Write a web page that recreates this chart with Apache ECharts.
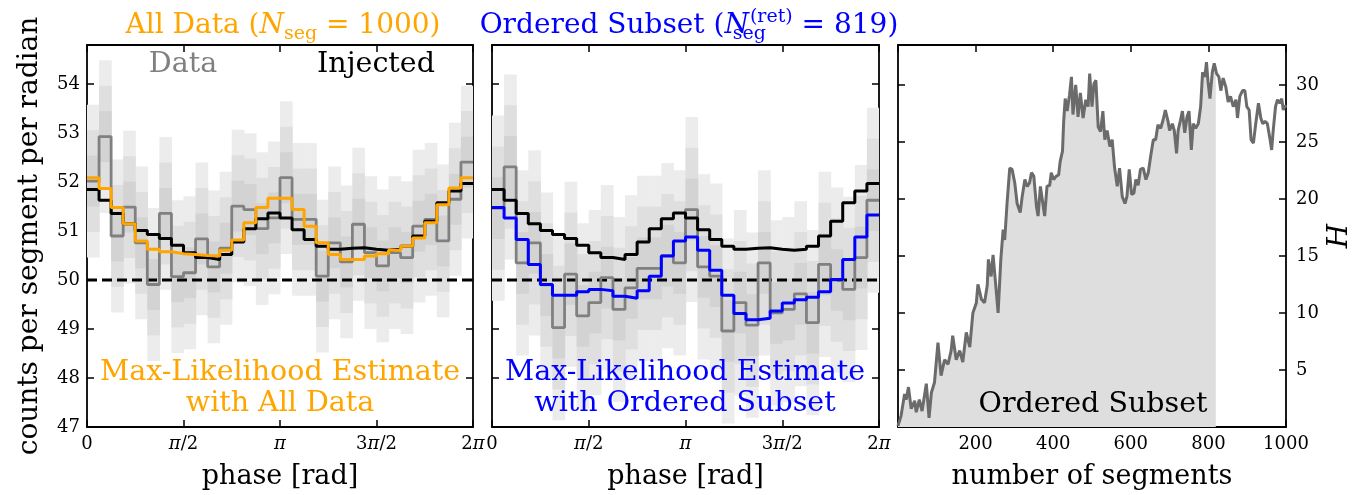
<!DOCTYPE html>
<html>
<head>
<meta charset="utf-8">
<script src="https://cdn.jsdelivr.net/npm/echarts@6/dist/echarts.min.js"></script>
<style>
  html, body { margin: 0; padding: 0; background: #fff; }
  #chart { width: 1371px; height: 495px; }
</style>
</head>
<body>
<div id="chart"></div>
<script>
// phase bins (32 over 0..2pi)
const nBins = 32;
const injected = [51.85, 51.63, 51.36, 51.15, 51.01, 50.93, 50.85, 50.71, 50.56, 50.46, 50.42, 50.52, 50.78, 51.05, 51.25, 51.37,
  51.27, 51.03, 50.83, 50.69, 50.63, 50.65, 50.66, 50.63, 50.61, 50.63, 50.69, 50.90, 51.20, 51.58, 51.82, 51.97];
const dataAll = [52.02, 52.93, 50.90, 51.49, 50.76, 49.91, 51.36, 50.07, 50.15, 50.84, 50.27, 50.65, 51.51, 51.44, 51.05, 51.27,
  52.09, 51.24, 51.24, 50.08, 50.76, 50.37, 51.14, 50.56, 50.29, 50.56, 50.46, 51.10, 51.24, 50.80, 51.65, 52.41];
const mleAll = [52.09, 51.87, 51.48, 51.15, 50.80, 50.63, 50.58, 50.54, 50.52, 50.50, 50.49, 50.61, 50.82, 51.17, 51.48, 51.67,
  51.67, 51.44, 51.10, 50.76, 50.52, 50.42, 50.42, 50.49, 50.54, 50.61, 50.69, 50.86, 51.17, 51.54, 51.88, 52.09];
const dataSub = [51.47, 52.31, 50.35, 50.76, 49.90, 49.03, 50.12, 49.27, 49.54, 50.05, 49.40, 49.84, 50.24, 50.24, 50.50, 50.35,
  51.44, 50.27, 50.08, 48.96, 49.54, 49.08, 50.35, 49.33, 49.40, 49.72, 49.13, 50.32, 50.00, 49.81, 50.46, 51.63];
const mleSub = [51.48, 51.27, 50.83, 50.32, 49.91, 49.69, 49.69, 49.76, 49.81, 49.78, 49.67, 49.63, 49.78, 50.08, 50.49, 50.80,
  50.88, 50.61, 50.20, 49.69, 49.32, 49.19, 49.22, 49.37, 49.53, 49.60, 49.65, 49.76, 50.01, 50.42, 50.88, 51.33];
const sigmaAll = 0.52;
const sigmaSub = 0.63;
const nullLevel = 50;
const phaseTicks = ['0', '{i|π}/2', '{i|π}', '3{i|π}/2', '2{i|π}'];

// H statistic vs number of segments
const segN = [0, 8, 17, 21, 27, 34, 43, 47, 55, 62,
  68, 73, 80, 86, 94, 103, 111, 120, 129, 137,
  141, 150, 159, 167, 176, 185, 193, 202, 206, 215,
  223, 230, 233, 240, 245, 252, 258, 265, 271, 275,
  281, 288, 294, 301, 307, 315, 320, 327, 333, 339,
  344, 350, 357, 361, 367, 372, 378, 384, 391, 395,
  401, 408, 414, 418, 424, 427, 431, 436, 442, 447,
  451, 458, 464, 470, 477, 484, 490, 494, 500, 505,
  510, 516, 522, 528, 533, 539, 546, 552, 558, 565,
  571, 578, 585, 590, 596, 602, 608, 613, 619, 625,
  632, 639, 645, 651, 658, 664, 670, 677, 683, 689,
  696, 700, 707, 712, 718, 722, 728, 733, 739, 745,
  750, 756, 761, 767, 774, 780, 785, 791, 795, 799,
  804, 810, 815, 821, 827, 832, 838, 845, 851, 857,
  864, 871, 875, 881, 888, 894, 899, 905, 910, 916,
  922, 929, 935, 940, 946, 952, 959, 963, 967, 973,
  978, 984, 989, 993, 997, 1000];
const hVal = [0.1, 1.0, 2.9, 2.4, 3.5, 1.6, 2.3, 1.3, 2.4, 1.4,
  2.7, 3.8, 0.8, 3.0, 3.9, 7.4, 4.5, 5.9, 5.5, 6.7,
  8.0, 5.9, 6.7, 5.7, 8.3, 7.0, 10.0, 10.9, 12.5, 11.2,
  10.9, 12.4, 14.7, 13.2, 15.1, 12.4, 10.0, 14.7, 17.3, 16.4,
  19.6, 22.7, 22.6, 21.4, 19.6, 18.8, 20.2, 21.7, 21.1, 21.4,
  22.3, 22.0, 19.3, 18.5, 21.1, 19.9, 18.5, 21.1, 21.2, 22.3,
  21.7, 22.0, 22.1, 23.3, 24.2, 26.8, 28.8, 27.7, 29.1, 30.7,
  27.4, 30.0, 27.2, 29.3, 27.1, 28.7, 28.1, 31.0, 28.1, 30.1,
  30.4, 26.3, 25.9, 27.7, 25.2, 26.0, 24.6, 25.2, 22.8, 21.1,
  22.7, 20.2, 19.6, 20.2, 22.6, 20.4, 20.5, 21.7, 21.2, 22.6,
  22.7, 21.7, 22.3, 23.7, 25.2, 25.2, 26.5, 26.2, 26.9, 27.8,
  26.8, 26.0, 26.6, 26.0, 24.0, 26.0, 26.9, 27.7, 25.8, 27.2,
  27.7, 24.3, 26.6, 26.2, 26.6, 28.1, 31.1, 30.7, 32.0, 30.3,
  28.8, 31.1, 31.9, 31.0, 30.7, 29.5, 30.6, 29.8, 28.5, 29.0,
  28.1, 28.7, 27.1, 29.0, 29.5, 29.5, 28.1, 27.8, 25.2, 24.9,
  26.6, 28.4, 27.1, 26.6, 26.8, 26.6, 25.2, 24.3, 26.0, 28.1,
  28.7, 28.4, 28.8, 27.8, 28.2, 28.0];
const nRet = 819;
const hAtRet = 31.3;
const segTicks = [200, 400, 600, 800, 1000];
const hTicks = [5, 10, 15, 20, 25, 30];

const SERIF = '"DejaVu Serif", serif';
const TWO_PI = 2 * Math.PI;
const binW = TWO_PI / nBins;

function stepPoints(vals) {
  var pts = vals.map(function (v, i) { return [i * binW, v]; });
  pts.push([TWO_PI, vals[vals.length - 1]]);
  return pts;
}

function bandSeries(vals, sigma, k, color, xi, yi) {
  return {
    type: 'custom',
    xAxisIndex: xi,
    yAxisIndex: yi,
    silent: true,
    clip: true,
    z: 1,
    data: vals.map(function (v, i) { return [i, v]; }),
    renderItem: function (params, api) {
      var i = api.value(0), c = api.value(1);
      var p1 = api.coord([i * binW, c + k * sigma]);
      var p2 = api.coord([(i + 1) * binW, c - k * sigma]);
      return {
        type: 'rect',
        shape: { x: p1[0], y: p1[1], width: p2[0] - p1[0] + 0.6, height: p2[1] - p1[1] },
        style: { fill: color }
      };
    }
  };
}

function stepLine(vals, color, width, xi, yi, z) {
  return {
    type: 'line', xAxisIndex: xi, yAxisIndex: yi, step: 'end',
    symbol: 'none', silent: true, z: z,
    lineStyle: { color: color, width: width },
    data: stepPoints(vals)
  };
}

function nullLine(xi, yi) {
  return {
    type: 'line', xAxisIndex: xi, yAxisIndex: yi, symbol: 'none', silent: true, z: 2,
    lineStyle: { color: '#000', width: 3, type: [10, 5] },
    data: [[0, nullLevel], [TWO_PI, nullLevel]]
  };
}

var spine = { show: true, onZero: false, lineStyle: { color: '#000', width: 1.8 } };
var tick = { show: true, inside: true, length: 7, lineStyle: { color: '#000', width: 1.5 } };

function phaseAxis(gi, pos, labels) {
  return {
    type: 'value', gridIndex: gi, position: pos, min: 0, max: TWO_PI, interval: Math.PI / 2,
    axisLine: spine, axisTick: tick, splitLine: { show: false },
    name: labels ? 'phase [rad]' : '', nameLocation: 'middle', nameGap: 36,
    nameTextStyle: { fontFamily: SERIF, fontSize: 27, color: '#000' },
    axisLabel: {
      show: labels, margin: 8, fontFamily: SERIF, fontSize: 18, color: '#000',
      formatter: function (v) {
        var k = Math.round(v / (Math.PI / 2));
        if (Math.abs(v - k * Math.PI / 2) > 1e-6) return '';
        return phaseTicks[k];
      },
      rich: { i: { fontFamily: SERIF, fontSize: 18, fontStyle: 'italic', color: '#000' } }
    }
  };
}

function countAxis(gi, pos, labels) {
  return {
    type: 'value', gridIndex: gi, position: pos, min: 47, max: 54.8, interval: 1,
    axisLine: spine, axisTick: tick, splitLine: { show: false },
    name: labels ? 'counts per segment per radian' : '', nameLocation: 'middle', nameGap: 43,
    nameTextStyle: { fontFamily: SERIF, fontSize: 28, color: '#000' },
    axisLabel: {
      show: labels, margin: 7, fontFamily: SERIF, fontSize: 18, color: '#000',
      formatter: function (v) { return Math.abs(v - Math.round(v)) < 1e-6 ? String(Math.round(v)) : ''; }
    }
  };
}

var areaPts = [];
var linePts = [];
segN.forEach(function (s, i) {
  linePts.push([s, hVal[i]]);
  if (s < nRet) areaPts.push([s, hVal[i]]);
});
areaPts.push([nRet, hAtRet]);

var titleRich = {
  a: { fontFamily: SERIF, fontSize: 28, fontWeight: 'normal', lineHeight: 36, verticalAlign: 'middle' },
  n: { fontFamily: SERIF, fontSize: 28, fontWeight: 'normal', fontStyle: 'italic', lineHeight: 36, verticalAlign: 'middle' },
  sub: { fontFamily: SERIF, fontSize: 19, fontWeight: 'normal', verticalAlign: 'bottom' },
  sub0: { fontFamily: SERIF, fontSize: 19, fontWeight: 'normal', verticalAlign: 'bottom', width: 1 },
  sup: { fontFamily: SERIF, fontSize: 19, fontWeight: 'normal', verticalAlign: 'top' }
};
function richWithColor(color) {
  var r = {};
  Object.keys(titleRich).forEach(function (k) { r[k] = Object.assign({ color: color }, titleRich[k]); });
  return r;
}

function label(text, x, y, color) {
  return {
    type: 'text', x: x, y: y, silent: true, z: 100,
    style: { text: text, fill: color, font: '28.5px ' + SERIF, textAlign: 'center', textVerticalAlign: 'middle' }
  };
}

var option = {
  animation: false,
  backgroundColor: '#fff',
  title: [
    {
      left: 278, top: 3, textAlign: 'center',
      text: '{a|All Data (}{n|N}{sub|seg}{a| = 1000)}',
      textStyle: { fontWeight: 'normal', rich: richWithColor('#FFA500') }
    },
    {
      left: 684, top: 3, textAlign: 'center',
      text: '{a|Ordered Subset (}{n|N}{sub0|seg}{sup|(ret)}{a| = 819)}',
      textStyle: { fontWeight: 'normal', rich: richWithColor('#0000FF') }
    }
  ],
  grid: [
    { left: 87, top: 45, width: 386, height: 383 },
    { left: 492, top: 45, width: 387, height: 383 },
    { left: 898, top: 45, width: 388, height: 383 }
  ],
  xAxis: [
    phaseAxis(0, 'bottom', true),
    phaseAxis(0, 'top', false),
    phaseAxis(1, 'bottom', true),
    phaseAxis(1, 'top', false),
    {
      type: 'value', gridIndex: 2, position: 'bottom', min: 0, max: 1000, interval: 200,
      axisLine: spine, axisTick: tick, splitLine: { show: false },
      name: 'number of segments', nameLocation: 'middle', nameGap: 36,
      nameTextStyle: { fontFamily: SERIF, fontSize: 27, color: '#000' },
      axisLabel: {
        margin: 8, fontFamily: SERIF, fontSize: 18, color: '#000',
        formatter: function (v) { return segTicks.indexOf(v) >= 0 ? String(v) : ''; }
      }
    },
    {
      type: 'value', gridIndex: 2, position: 'top', min: 0, max: 1000, interval: 200,
      axisLine: spine, axisTick: tick, splitLine: { show: false }, axisLabel: { show: false }
    }
  ],
  yAxis: [
    countAxis(0, 'left', true),
    countAxis(0, 'right', false),
    countAxis(1, 'left', false),
    countAxis(1, 'right', false),
    {
      type: 'value', gridIndex: 2, position: 'right', min: 0, max: 33.5, interval: 5,
      axisLine: spine, axisTick: tick, splitLine: { show: false },
      name: 'H', nameLocation: 'middle', nameGap: 40, nameRotate: 90,
      nameTextStyle: { fontFamily: SERIF, fontSize: 28, fontStyle: 'italic', color: '#000' },
      axisLabel: {
        margin: 10, fontFamily: SERIF, fontSize: 18, color: '#000',
        formatter: function (v) { return hTicks.indexOf(v) >= 0 ? String(v) : ''; }
      }
    },
    {
      type: 'value', gridIndex: 2, position: 'left', min: 0, max: 33.5, interval: 5,
      axisLine: spine, axisTick: tick, splitLine: { show: false }, axisLabel: { show: false }
    }
  ],
  series: [
    bandSeries(dataAll, sigmaAll, 3, '#ececec', 0, 0),
    bandSeries(dataAll, sigmaAll, 2, '#dfdfdf', 0, 0),
    bandSeries(dataAll, sigmaAll, 1, '#d3d3d3', 0, 0),
    nullLine(0, 0),
    stepLine(dataAll, '#808080', 2.8, 0, 0, 3),
    stepLine(injected, '#000000', 3, 0, 0, 4),
    stepLine(mleAll, '#FFA500', 3, 0, 0, 5),

    bandSeries(dataSub, sigmaSub, 3, '#ececec', 2, 2),
    bandSeries(dataSub, sigmaSub, 2, '#dfdfdf', 2, 2),
    bandSeries(dataSub, sigmaSub, 1, '#d3d3d3', 2, 2),
    nullLine(2, 2),
    stepLine(dataSub, '#808080', 2.8, 2, 2, 3),
    stepLine(injected, '#000000', 3, 2, 2, 4),
    stepLine(mleSub, '#0000FF', 3, 2, 2, 5),

    {
      type: 'line', xAxisIndex: 4, yAxisIndex: 4, symbol: 'none', silent: true, z: 1,
      lineStyle: { width: 0, opacity: 0 },
      areaStyle: { color: '#dedede', opacity: 1 },
      data: areaPts
    },
    {
      type: 'line', xAxisIndex: 4, yAxisIndex: 4, symbol: 'none', silent: true, z: 3,
      lineStyle: { color: '#6b6b6b', width: 3 },
      data: linePts
    }
  ],
  graphic: [
    label('Data', 183, 65, '#808080'),
    label('Injected', 376, 65, '#000000'),
    label('Max-Likelihood Estimate', 280, 373, '#FFA500'),
    label('with All Data', 280, 404, '#FFA500'),
    label('Max-Likelihood Estimate', 685, 373, '#0000FF'),
    label('with Ordered Subset', 685, 404, '#0000FF'),
    label('Ordered Subset', 1093, 405, '#000000')
  ]
};

var chart = echarts.init(document.getElementById('chart'), null, { renderer: 'canvas' });
chart.setOption(option);
</script>
</body>
</html>
